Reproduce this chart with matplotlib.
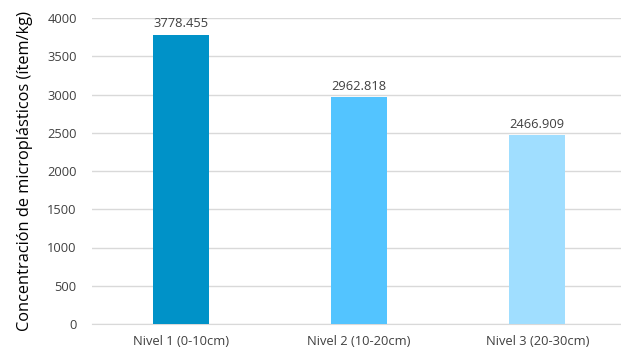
import matplotlib.pyplot as plt

categories = ['Nivel 1 (0-10cm)', 'Nivel 2 (10-20cm)', 'Nivel 3 (20-30cm)']
values = [3778.455, 2962.818, 2466.909]
labels = ['3778.455', '2962.818', '2466.909']
colors = ['#0092C8', '#53C4FF', '#A0DEFF']

plt.rcParams['font.family'] = ['Open Sans', 'DejaVu Sans']

fig = plt.figure(figsize=(6.21, 3.5), dpi=100)
ax = fig.add_axes([92 / 621, 26 / 350, 1 - 92 / 621, 306 / 350])

x = range(len(categories))
ax.bar(x, values, width=0.315, color=colors, zorder=3)
for i, (v, lab) in enumerate(zip(values, labels)):
    ax.text(i, v + 60, lab, ha='center', va='bottom', fontsize=9.3, color='#404040')

ax.set_ylim(0, 4000)
ax.set_xlim(-0.5, 2.47)
ax.set_yticks(range(0, 4001, 500))
ax.set_xticks(list(x))
ax.set_xticklabels(categories)
ax.tick_params(axis='both', length=0, labelsize=9.3, colors='#404040')
ax.tick_params(axis='x', pad=8)
ax.tick_params(axis='y', pad=11)
ax.yaxis.grid(True, color='#D9D9D9', linewidth=1, zorder=0)
for s in ['top', 'right', 'left']:
    ax.spines[s].set_visible(False)
ax.spines['bottom'].set_color('#D9D9D9')
ax.set_ylabel('Concentración de microplásticos (ítem/kg)', fontsize=11.8, color='#000000', labelpad=10)

fig.savefig('out.png', dpi=100)
